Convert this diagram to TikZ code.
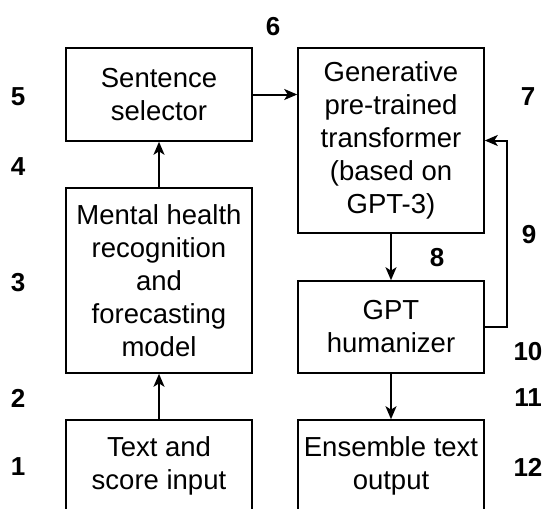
\documentclass[tikz,border=0pt]{standalone}
\usepackage{fontspec}
\setmainfont{Liberation Sans}
\usetikzlibrary{arrows.meta}
\begin{document}
\begin{tikzpicture}[x=1pt,y=-1pt,
  box/.style={draw, line width=1.6pt, align=center, font=\fontsize{27.5}{33}\selectfont, inner sep=0pt},
  num/.style={font=\fontsize{26}{30}\selectfont\bfseries},
  conn/.style={line width=2pt, -{Stealth[length=13pt,width=11pt,inset=3.5pt]}}]
\clip (0,0) rectangle (547,509);
\fill[white] (0,0) rectangle (547,509);
\node[box, minimum width=186pt, minimum height=93pt] (sel) at (159,94.5) {Sentence\\selector};
\node[box, minimum width=186pt, minimum height=185pt] (mh) at (159,280.5) {Mental health\\recognition\\and\\forecasting\\model};
\node[box, minimum width=186pt, minimum height=92pt] (ti) at (159,466) {Text and\\score input};
\node[box, minimum width=186pt, minimum height=185pt] (gpt) at (391,140.5) {Generative\\pre-trained\\transformer\\(based on\\GPT-3)};
\node[box, minimum width=186pt, minimum height=92pt] (hum) at (391,327) {GPT\\humanizer};
\node[box, minimum width=186pt, minimum height=92pt] (ens) at (391,466) {Ensemble text\\output};
\coordinate (fb) at (507,140.5);
\draw[conn] (ti) -- (mh);
\draw[conn] (mh) -- (sel);
\draw[conn] (sel.east) -- (sel.east -| gpt.west);
\draw[conn] (gpt) -- (hum);
\draw[conn] (hum) -- (ens);
\draw[conn] (hum.east) -| (fb) -- (gpt.east);
\node[num] (n1) at (18,467) {1};
\node[num] (n2) at (18,398) {2};
\node[num] (n3) at (18,283) {3};
\node[num] (n4) at (18,167) {4};
\node[num] (n5) at (18,97) {5};
\node[num] (n6) at (273,27) {6};
\node[num] (n7) at (528,97) {7};
\node[num] (n8) at (437,258) {8};
\node[num] (n9) at (529,235) {9};
\node[num] (n10) at (528,352) {10};
\node[num] (n11) at (528,398) {11};
\node[num] (n12) at (528,467) {12};
\end{tikzpicture}
\end{document}
